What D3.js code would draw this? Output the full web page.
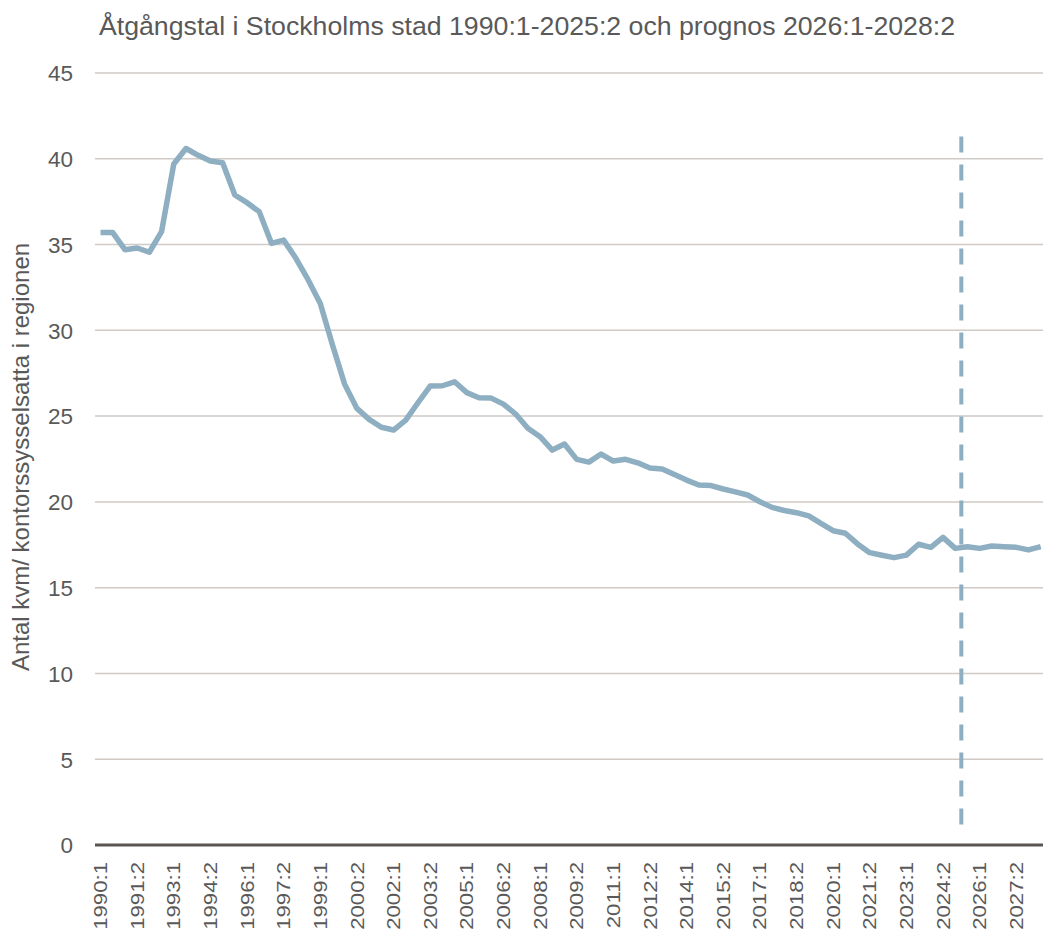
<!DOCTYPE html>
<html>
<head>
<meta charset="utf-8">
<script src="https://cdn.jsdelivr.net/npm/d3@7"></script>
<style>
  html, body { margin: 0; padding: 0; background: #ffffff; }
  svg { display: block; }
  text { font-family: "Liberation Sans", Arial, sans-serif; fill: #595959; }
</style>
</head>
<body>
<svg id="chart" width="1043" height="934"></svg>
<script>
// Half-year periods 1990:1 .. 2028:2
const years = d3.range(1990, 2029);
const halves = [1, 2];
const periods = years.flatMap(y => halves.map(h => `${y}:${h}`));

// Office space per office employee (sqm), actual and forecast
const values = [
  35.7, 35.7, 34.7, 34.8, 34.55, 35.75, 39.7, 40.6, 40.2, 39.87,
  39.77, 37.89, 37.44, 36.92, 35.07, 35.26, 34.2, 32.95, 31.57, 29.14,
  26.85, 25.45, 24.81, 24.35, 24.19, 24.77, 25.78, 26.75, 26.77, 27.0,
  26.37, 26.07, 26.05, 25.7, 25.12, 24.29, 23.8, 23.02, 23.37, 22.48,
  22.32, 22.79, 22.38, 22.48, 22.28, 21.97, 21.92, 21.6, 21.27, 20.98,
  20.95, 20.75, 20.58, 20.4, 20.01, 19.68, 19.5, 19.37, 19.18, 18.75,
  18.32, 18.17, 17.55, 17.04, 16.89, 16.75, 16.9, 17.53, 17.35, 17.93,
  17.29, 17.39, 17.29, 17.43, 17.39, 17.35, 17.2, 17.39
];

// Labelled periods on the category axis
const xTickLabels = [
  "1990:1", "1991:2", "1993:1", "1994:2", "1996:1", "1997:2", "1999:1",
  "2000:2", "2002:1", "2003:2", "2005:1", "2006:2", "2008:1", "2009:2",
  "2011:1", "2012:2", "2014:1", "2015:2", "2017:1", "2018:2", "2020:1",
  "2021:2", "2023:1", "2024:2", "2026:1", "2027:2"
];
const yTicks = [0, 5, 10, 15, 20, 25, 30, 35, 40, 45];

// Boundary between actual data and forecast
const splitPeriod = "2025:2";
const splitRange = [41.3, 1.15];

const title = "Åtgångstal i Stockholms stad 1990:1-2025:2 och prognos 2026:1-2028:2";
const yTitle = "Antal kvm/ kontorssysselsatta i regionen";

const svg = d3.select("#chart");
const plotLeft = 95, plotRight = 1043;

const x = d3.scaleBand().domain(periods).range([94.4, 1046.8]).paddingInner(0).paddingOuter(0);
const y = d3.scaleLinear().domain([0, 45]).range([845, 73]);
const cx = p => x(p) + x.bandwidth() / 2;

// Horizontal gridlines
svg.append("g")
  .selectAll("line")
  .data(yTicks.filter(d => d !== 0))
  .join("line")
  .attr("x1", plotLeft).attr("x2", plotRight)
  .attr("y1", d => y(d)).attr("y2", d => y(d))
  .attr("stroke", "#cfcac6").attr("stroke-width", 1.5);

// Y axis labels
const yAxis = d3.axisLeft(y).tickValues(yTicks).tickSize(0).tickPadding(0).tickFormat(d3.format("d"));
const gy = svg.append("g").attr("transform", "translate(73,0)").call(yAxis);
gy.select(".domain").remove();
gy.selectAll("text")
  .attr("fill", "#595959")
  .style("font-size", "22.5px")
  .attr("dy", "0.35em");

// Zero baseline
svg.append("line")
  .attr("x1", plotLeft).attr("x2", plotRight)
  .attr("y1", y(0)).attr("y2", y(0))
  .attr("stroke", "#5a5550").attr("stroke-width", 3);

// X axis labels (rotated)
const xAxis = d3.axisBottom(x).tickValues(xTickLabels).tickSize(0).tickPadding(0);
const gx = svg.append("g").attr("transform", `translate(0,${y(0)})`).call(xAxis);
gx.select(".domain").remove();
gx.selectAll("text")
  .attr("fill", "#595959")
  .style("font-size", "18.5px")
  .attr("text-anchor", "end")
  .attr("x", 0).attr("y", 0)
  .attr("dy", null)
  .attr("transform", "translate(0,17) rotate(-90) scale(1.2,1) translate(0,6.6)");

// Forecast divider
svg.append("line")
  .attr("x1", x(splitPeriod)).attr("x2", x(splitPeriod))
  .attr("y1", y(splitRange[0])).attr("y2", y(splitRange[1]))
  .attr("stroke", "#8eaec1").attr("stroke-width", 4)
  .attr("stroke-dasharray", "16 12");

// Series line
const line = d3.line()
  .x((d, i) => cx(periods[i]))
  .y(d => y(d));
svg.append("path")
  .datum(values)
  .attr("d", line)
  .attr("fill", "none")
  .attr("stroke", "#8eaec1")
  .attr("stroke-width", 5.5)
  .attr("stroke-linejoin", "round")
  .attr("stroke-linecap", "butt");

// Title
svg.append("text")
  .attr("x", 527).attr("y", 35)
  .attr("text-anchor", "middle")
  .style("font-size", "26.7px")
  .text(title);

// Y axis title
svg.append("text")
  .attr("transform", "translate(29,457) rotate(-90)")
  .attr("text-anchor", "middle")
  .style("font-size", "24px")
  .text(yTitle);
</script>
</body>
</html>
